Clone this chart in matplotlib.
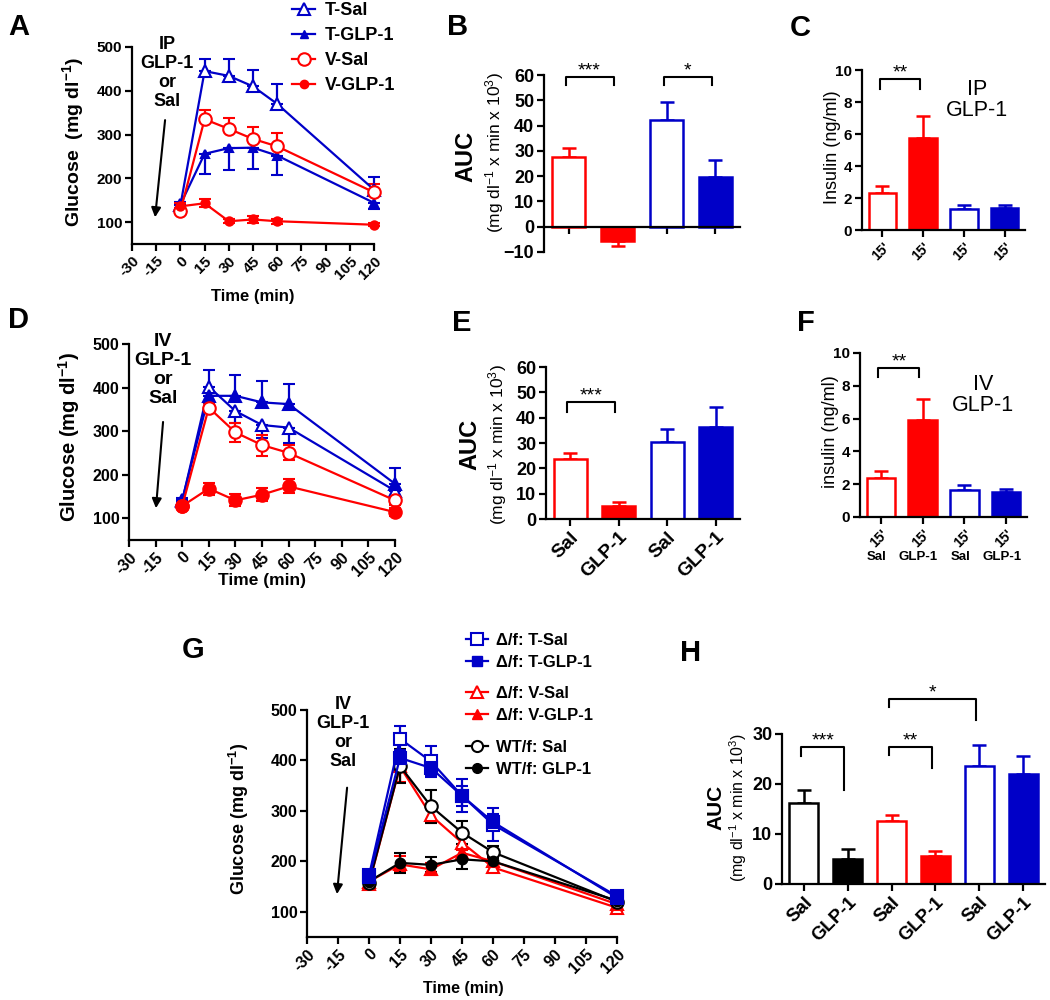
import numpy as np
import matplotlib.pyplot as plt
from matplotlib.lines import Line2D

plt.rcParams['font.family'] = ['Liberation Sans', 'DejaVu Sans']
plt.rcParams['mathtext.default'] = 'regular'

RED = '#FF0000'
BLUE = '#0000C8'
BLACK = '#000000'

# ---------------- data ----------------
time_min = [0, 15, 30, 45, 60, 120]
time_ticks = list(range(-30, 121, 15))

# A: IP GLP-1, glucose
a_t_sal = [138, 445, 434, 410, 370, 174]
a_t_sal_err = [8, 28, 38, 37, 45, 30]
a_t_glp = [140, 256, 269, 270, 252, 144]
a_t_glp_err = [8, 46, 50, 48, 45, 15]
a_v_sal = [125, 335, 313, 290, 273, 168]
a_v_sal_err = [8, 22, 24, 27, 30, 20]
a_v_glp = [136, 143, 102, 106, 102, 94]
a_v_glp_err = [8, 9, 4, 7, 6, 4]

# D: IV GLP-1, glucose
d_t_sal = [140, 402, 346, 314, 308, 163]
d_t_sal_err = [6, 15, 27, 30, 35, 12]
d_t_glp = [142, 381, 381, 366, 362, 179]
d_t_glp_err = [5, 59, 47, 49, 47, 37]
d_v_sal = [128, 354, 297, 268, 250, 141]
d_v_sal_err = [5, 10, 21, 24, 17, 10]
d_v_glp = [128, 168, 141, 154, 173, 114]
d_v_glp_err = [5, 14, 14, 15, 16, 10]

# G: IV GLP-1, glucose, delta/f and WT/f mice
g_t_sal = [172, 443, 398, 330, 273, 131]
g_t_sal_err = [10, 25, 30, 33, 33, 6]
g_t_glp = [168, 405, 385, 330, 278, 128]
g_t_glp_err = [8, 15, 15, 20, 15, 6]
g_v_sal = [155, 388, 291, 237, 188, 108]
g_v_sal_err = [6, 30, 15, 15, 10, 6]
g_v_glp = [160, 194, 184, 217, 200, 115]
g_v_glp_err = [6, 16, 12, 10, 10, 6]
g_wt_sal = [157, 389, 309, 257, 218, 120]
g_wt_sal_err = [6, 33, 33, 22, 12, 6]
g_wt_glp = [160, 197, 193, 204, 200, 122]
g_wt_glp_err = [6, 20, 15, 20, 10, 6]

# AUC / insulin bars
b_auc = [27.7, -5.5, 42.3, 19.5]
b_auc_err = [3.3, 2.2, 7.2, 6.9]
c_ins = [2.3, 5.77, 1.31, 1.35]
c_ins_err = [0.45, 1.33, 0.25, 0.21]
e_auc = [23.6, 5.0, 30.5, 36.4]
e_auc_err = [2.6, 1.7, 5.0, 8.0]
f_ins = [2.38, 5.93, 1.63, 1.5]
f_ins_err = [0.45, 1.27, 0.3, 0.23]
h_auc = [16.2, 5.1, 12.6, 5.6, 23.6, 22.0]
h_auc_err = [2.6, 2.0, 1.2, 1.0, 4.2, 3.7]

treat_labels = ['Sal', 'GLP-1', 'Sal', 'GLP-1']
h_labels = ['Sal', 'GLP-1', 'Sal', 'GLP-1', 'Sal', 'GLP-1']
ins_labels = ["15'", "15'", "15'", "15'"]

fig = plt.figure(figsize=(10.5, 10), dpi=100)


def px_axes(left, top, right, bottom):
    return fig.add_axes([left / 1050, 1 - bottom / 1000,
                         (right - left) / 1050, (bottom - top) / 1000])


def style(ax, fs):
    for s in ['top', 'right']:
        ax.spines[s].set_visible(False)
    for s in ['left', 'bottom']:
        ax.spines[s].set_linewidth(1.6)
    ax.tick_params(width=1.6, length=5, labelsize=fs, pad=2)
    for t in ax.get_yticklabels():
        t.set_fontweight('bold')


def err_pair(err, direction):
    z = [0] * len(err)
    if direction == 'up':
        return [z, err]
    if direction == 'down':
        return [err, z]
    return [err, err]


def line_panel(ax, series, fs):
    for y, e, d, c, m, filled, ms in series:
        ax.errorbar(time_min, y, yerr=err_pair(e, d), color=c, marker=m,
                    mfc=c if filled else 'white', mec=c, ms=ms, mew=1.5,
                    lw=1.6, elinewidth=1.6, capsize=4, capthick=1.6,
                    clip_on=False, zorder=3)
    ax.set_xlim(-30, 120)
    ax.set_ylim(50, 500)
    ax.set_yticks([100, 200, 300, 400, 500])
    ax.set_xticks(time_ticks)
    ax.set_xticklabels([str(t) for t in time_ticks], rotation=45, ha='right',
                       rotation_mode='anchor', fontweight='bold', fontsize=fs)
    style(ax, fs)


def bar_panel(ax, vals, errs, colors, filled, fs, width=0.68):
    x = np.arange(len(vals))
    for i, v in enumerate(vals):
        ax.bar(x[i], v, width=width, facecolor=colors[i] if filled[i] else 'white',
               edgecolor=colors[i], linewidth=1.8, zorder=2)
        e = [[0], [errs[i]]] if v >= 0 else [[errs[i]], [0]]
        ax.errorbar(x[i], v, yerr=e, fmt='none', ecolor=colors[i],
                    elinewidth=1.8, capsize=5, capthick=1.8, zorder=1)
    ax.set_xlim(-0.5, len(vals) - 0.5)
    ax.set_xticks(x)
    style(ax, fs)


def bracket(ax, i, j, y, l0, l1, stars, fs=14):
    x0, x1 = i - 0.06, j - 0.08
    ax.plot([x0, x0, x1, x1], [l0, y, y, l1], color='k', lw=1.5, clip_on=False)
    ax.annotate(stars, xy=((x0 + x1) / 2, y), xytext=(0, 1),
                textcoords='offset points', ha='center', va='baseline',
                fontsize=fs, annotation_clip=False)


def inject(ax, route, x, y, x0, y0, x1, y1, fs):
    ax.text(x, y, route + '\nGLP-1\nor\nSal', ha='center', va='center',
            fontsize=fs, fontweight='bold', linespacing=1.15, clip_on=False)
    ax.annotate('', xy=(x1, y1), xytext=(x0, y0), annotation_clip=False,
                arrowprops=dict(arrowstyle='-|>', color='k', lw=1.5,
                                mutation_scale=14, shrinkA=0, shrinkB=0))


# ---------------- A ----------------
axA = px_axes(132, 47, 374, 244)
line_panel(axA, [
    (a_t_sal, a_t_sal_err, 'up', BLUE, '^', False, 9),
    (a_t_glp, a_t_glp_err, 'down', BLUE, '^', True, 6),
    (a_v_sal, a_v_sal_err, 'up', RED, 'o', False, 9),
    (a_v_glp, a_v_glp_err, 'both', RED, 'o', True, 6),
], 11)
axA.set_ylabel('Glucose  (mg dl$^{-1}$)', fontsize=14, fontweight='bold')
axA.yaxis.set_label_coords(-0.19, 0.52)
axA.set_xlabel('Time (min)', fontsize=12, fontweight='bold')
axA.xaxis.set_label_coords(0.5, -0.23)
inject(axA, 'IP', -8.3, 441, -9.5, 333, -15.7, 111, 13)

leg_h = [Line2D([], [], color=BLUE, marker='^', mfc='white', mec=BLUE, ms=9, lw=1.6, mew=1.5),
         Line2D([], [], color=BLUE, marker='^', mfc=BLUE, mec=BLUE, ms=6, lw=1.6),
         Line2D([], [], color=RED, marker='o', mfc='white', mec=RED, ms=9, lw=1.6, mew=1.5),
         Line2D([], [], color=RED, marker='o', mfc=RED, mec=RED, ms=6, lw=1.6)]
fig.legend(leg_h, ['T-Sal', 'T-GLP-1', 'V-Sal', 'V-GLP-1'], loc='upper left',
           bbox_to_anchor=(292 / 1050, 1 - 2 / 1000), frameon=False,
           prop=dict(weight='bold', size=13), handlelength=1.3,
           handletextpad=0.5, labelspacing=0.45, borderpad=0, borderaxespad=0)

# ---------------- B ----------------
axB = px_axes(544, 75, 740, 252)
bar_panel(axB, b_auc, b_auc_err, [RED, RED, BLUE, BLUE], [False, True, False, True], 13)
axB.set_ylim(-10, 60)
axB.set_yticks(range(-10, 61, 10))
axB.spines['bottom'].set_position(('data', 0))
axB.set_xticklabels([])
axB.text(-0.40, 0.54, 'AUC', transform=axB.transAxes, rotation=90, ha='center',
         va='center', fontsize=17, fontweight='bold')
axB.text(-0.25, 0.56, '(mg dl$^{-1}$ x min x 10$^{3}$)', transform=axB.transAxes,
         rotation=90, ha='center', va='center', fontsize=12.5)
bracket(axB, 0, 1, 59.2, 56, 56, '***')
bracket(axB, 2, 3, 59.2, 56, 56, '*')

# ---------------- C ----------------
axC = px_axes(862, 70, 1025, 230)
bar_panel(axC, c_ins, c_ins_err, [RED, RED, BLUE, BLUE], [False, True, False, True], 11)
axC.set_ylim(0, 10)
axC.set_yticks(range(0, 11, 2))
axC.set_xticklabels(ins_labels, rotation=45, ha='right', rotation_mode='anchor',
                    fontweight='bold', fontsize=10)
axC.set_ylabel('Insulin (ng/ml)', fontsize=13)
axC.yaxis.set_label_coords(-0.13, 0.52)
axC.text(2.32, 8.1, 'IP\nGLP-1', ha='center', va='center', fontsize=15.5,
         linespacing=1.0)
bracket(axC, 0, 1, 9.44, 8.8, 8.8, '**')

# ---------------- D ----------------
axD = px_axes(129, 344, 395, 540)
line_panel(axD, [
    (d_t_sal, d_t_sal_err, 'down', BLUE, '^', False, 9),
    (d_t_glp, d_t_glp_err, 'up', BLUE, '^', True, 8),
    (d_v_sal, d_v_sal_err, 'both', RED, 'o', False, 9),
    (d_v_glp, d_v_glp_err, 'both', RED, 'o', True, 9),
], 11.5)
axD.set_ylabel('Glucose (mg dl$^{-1}$)', fontsize=14.5, fontweight='bold')
axD.yaxis.set_label_coords(-0.175, 0.525)
axD.set_xlabel('Time (min)', fontsize=12.5, fontweight='bold')
axD.xaxis.set_label_coords(0.5, -0.17)
inject(axD, 'IV', -10.8, 440, -10.8, 321, -14.8, 123, 14)

# ---------------- E ----------------
axE = px_axes(546, 367, 740, 519)
bar_panel(axE, e_auc, e_auc_err, [RED, RED, BLUE, BLUE], [False, True, False, True], 13)
axE.set_ylim(0, 60)
axE.set_yticks(range(0, 61, 10))
axE.set_xticklabels(treat_labels, rotation=45, ha='right', rotation_mode='anchor',
                    fontweight='bold', fontsize=14)
axE.text(-0.39, 0.49, 'AUC', transform=axE.transAxes, rotation=90, ha='center',
         va='center', fontsize=17, fontweight='bold')
axE.text(-0.25, 0.49, '(mg dl$^{-1}$ x min x 10$^{3}$)', transform=axE.transAxes,
         rotation=90, ha='center', va='center', fontsize=12.5)
bracket(axE, 0, 1, 46.1, 42.1, 42.1, '***')

# ---------------- F ----------------
axF = px_axes(860, 353, 1027, 517)
bar_panel(axF, f_ins, f_ins_err, [RED, RED, BLUE, BLUE], [False, True, False, True], 11)
axF.set_ylim(0, 10)
axF.set_yticks(range(0, 11, 2))
axF.set_xticklabels(ins_labels, rotation=45, ha='right', rotation_mode='anchor',
                    fontweight='bold', fontsize=10)
for i, lab in enumerate(treat_labels):
    axF.text(i - 0.1, -0.245, lab, transform=axF.get_xaxis_transform(), ha='center',
             va='center', fontsize=9.5, fontweight='bold')
axF.set_ylabel('insulin (ng/ml)', fontsize=13)
axF.yaxis.set_label_coords(-0.125, 0.52)
axF.text(2.45, 7.45, 'IV\nGLP-1', ha='center', va='center', fontsize=15.5,
         linespacing=1.0)
bracket(axF, 0, 1, 9.09, 8.54, 8.54, '**')

# ---------------- G ----------------
axG = px_axes(307, 710, 617, 937)
line_panel(axG, [
    (g_v_sal, g_v_sal_err, 'both', RED, '^', False, 9),
    (g_v_glp, g_v_glp_err, 'both', RED, '^', True, 8),
    (g_wt_sal, g_wt_sal_err, 'both', BLACK, 'o', False, 9),
    (g_wt_glp, g_wt_glp_err, 'both', BLACK, 'o', True, 7),
    (g_t_sal, g_t_sal_err, 'both', BLUE, 's', False, 9),
    (g_t_glp, g_t_glp_err, 'both', BLUE, 's', True, 8),
], 11.5)
axG.set_ylabel('Glucose (mg dl$^{-1}$)', fontsize=13, fontweight='bold')
axG.yaxis.set_label_coords(-0.18, 0.52)
axG.set_xlabel('Time (min)', fontsize=11.5, fontweight='bold')
axG.xaxis.set_label_coords(0.503, -0.195)
inject(axG, 'IV', -12.6, 455, -10.6, 346, -15.5, 135, 13)

g_groups = [
    (BLUE, 's', ['Δ/f: T-Sal', 'Δ/f: T-GLP-1'], 633),
    (RED, '^', ['Δ/f: V-Sal', 'Δ/f: V-GLP-1'], 686),
    (BLACK, 'o', ['WT/f: Sal', 'WT/f: GLP-1'], 740),
]
for c, m, labs, top in g_groups:
    hs = [Line2D([], [], color=c, marker=m, mfc='white', mec=c, ms=8, lw=1.6, mew=1.5),
          Line2D([], [], color=c, marker=m, mfc=c, mec=c, ms=7, lw=1.6)]
    fig.legend(hs, labs, loc='upper left', bbox_to_anchor=(466 / 1050, 1 - top / 1000),
               frameon=False, prop=dict(weight='bold', size=12), handlelength=1.3,
               handletextpad=0.5, labelspacing=0.42, borderpad=0, borderaxespad=0)

# ---------------- H ----------------
axH = px_axes(782, 734, 1045, 884)
bar_panel(axH, h_auc, h_auc_err, [BLACK, BLACK, RED, RED, BLUE, BLUE],
          [False, True, False, True, False, True], 13, width=0.66)
axH.set_ylim(0, 30)
axH.set_yticks([0, 10, 20, 30])
axH.set_xticklabels(h_labels, rotation=45, ha='right', rotation_mode='anchor',
                    fontweight='bold', fontsize=13.5)
axH.text(-0.25, 0.51, 'AUC', transform=axH.transAxes, rotation=90, ha='center',
         va='center', fontsize=15, fontweight='bold')
axH.text(-0.167, 0.51, '(mg dl$^{-1}$ x min x 10$^{3}$)', transform=axH.transAxes,
         rotation=90, ha='center', va='center', fontsize=11.5)
bracket(axH, 0, 1, 27.5, 25.7, 18.8, '***')
bracket(axH, 2, 3, 27.5, 25.9, 23.2, '**')
bracket(axH, 2, 4, 37.1, 35.5, 32.9, '*')

# panel letters
for lab, x, y in [('A', 19, 27), ('B', 458, 27), ('C', 800, 28), ('D', 18, 320),
                  ('E', 462, 323), ('F', 806, 323), ('G', 193, 650), ('H', 691, 653)]:
    fig.text(x / 1050, 1 - y / 1000, lab, ha='center', va='center',
             fontsize=21, fontweight='bold')

fig.savefig('out.png', dpi=100)
